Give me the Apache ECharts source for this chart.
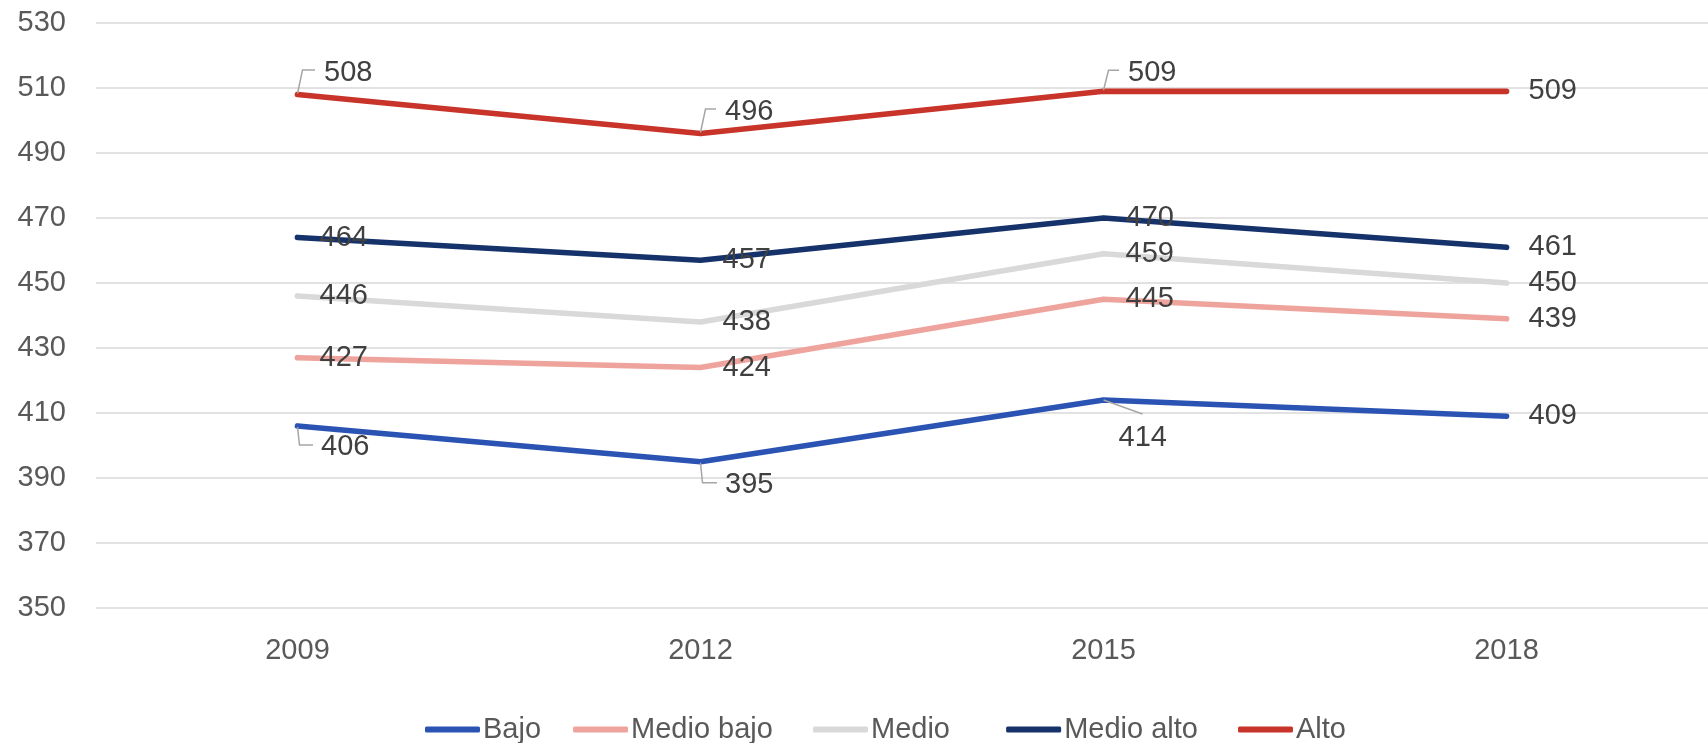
<!DOCTYPE html>
<html>
<head>
<meta charset="utf-8">
<script src="https://cdn.jsdelivr.net/npm/echarts@6/dist/echarts.min.js"></script>
<style>
  html, body { margin: 0; padding: 0; background: #fff; }
  #chart { width: 1708px; height: 743px; }
</style>
</head>
<body>
<div id="chart"></div>
<script>
// ---- data ----
const years = ['2009', '2012', '2015', '2018'];
const seriesNames = ['Bajo', 'Medio bajo', 'Medio', 'Medio alto', 'Alto'];
const bajo = [406, 395, 414, 409];
const medioBajo = [427, 424, 445, 439];
const medio = [446, 438, 459, 450];
const medioAlto = [464, 457, 470, 461];
const alto = [508, 496, 509, 509];
const yTicks = [350, 370, 390, 410, 430, 450, 470, 490, 510, 530];

// ---- styling ----
const colors = ['#2A53B3', '#EFA39D', '#D9D9D9', '#16326B', '#C8332A'];
const values = [bajo, medioBajo, medio, medioAlto, alto];
const FONT = 'Liberation Sans';
const LABEL_DIST = 21;
// label displacement (dx, dy) for labels drawn with a leader line
const labelShift = {
  'Alto': { 0: [4.5, -21.5], 1: [2.5, -21.5], 2: [2.5, -18] },
  'Bajo': { 0: [1.5, 21], 1: [2.5, 23], 2: [-7, 38] }
};
// trailing spaces after legend texts (to mimic the reference spacing)
const legendSpaces = { 'Bajo': 0, 'Medio bajo': 1, 'Medio': 3, 'Medio alto': 1, 'Alto': 0 };

const chart = echarts.init(document.getElementById('chart'), null, { renderer: 'canvas' });

const series = seriesNames.map((name, si) => {
  const shifts = labelShift[name] || {};
  return {
    name: name,
    type: 'line',
    data: values[si],
    symbol: 'circle',
    symbolSize: 2,
    showSymbol: true,
    itemStyle: { color: colors[si] },
    lineStyle: { color: colors[si], width: 5.75, cap: 'round', join: 'round' },
    z: 2 + si,
    label: {
      show: true,
      position: 'right',
      distance: LABEL_DIST,
      color: '#404040',
      fontFamily: FONT,
      fontSize: 29
    },
    labelLayout: function (params) {
      const s = shifts[params.dataIndex];
      if (!s) return {};
      return { dx: s[0], dy: s[1] };
    }
  };
});

// leader lines for the displaced labels, positioned through the axes
const leaderData = [];
seriesNames.forEach((name, si) => {
  const shifts = labelShift[name];
  if (!shifts) return;
  Object.keys(shifts).forEach(k => {
    const i = +k;
    leaderData.push({ value: [i, values[si][i]], name: name });
  });
});

series.push({
  type: 'custom',
  name: 'leaders',
  silent: true,
  z: 20,
  data: leaderData,
  renderItem: function (params, api) {
    const item = leaderData[params.dataIndex];
    const s = labelShift[item.name][item.value[0]];
    const p = api.coord([api.value(0), api.value(1)]);
    const cx = p[0], cy = p[1];
    const lx = cx + 1 + LABEL_DIST + s[0];
    const lcy = cy + s[1];
    let pts;
    if (item.name === 'Bajo' && item.value[0] === 2) {
      const ex = lx + 24, ey = lcy - 24;
      pts = [[cx, cy], [ex, ey]];
    } else if (s[1] < 0) {
      pts = [[cx, cy - 1], [cx + 5, lcy - 3], [lx - 9, lcy - 3]];
    } else {
      pts = [[cx, cy + 1], [cx + 2, lcy - 2], [lx - 8, lcy - 2]];
    }
    return {
      type: 'polyline',
      shape: { points: pts },
      style: { stroke: '#A6A6A6', lineWidth: 1.5, fill: null }
    };
  }
});

chart.setOption({
  animation: false,
  backgroundColor: '#ffffff',
  textStyle: { fontFamily: FONT },
  grid: { left: 96, top: 23, width: 1636, height: 585, containLabel: false },
  xAxis: {
    type: 'category',
    data: years,
    boundaryGap: true,
    axisLine: { show: false },
    axisTick: { show: false },
    axisLabel: { color: '#595959', fontFamily: FONT, fontSize: 29, margin: 28 },
    splitLine: { show: false }
  },
  yAxis: {
    type: 'value',
    min: yTicks[0],
    max: yTicks[yTicks.length - 1],
    interval: yTicks[1] - yTicks[0],
    axisLine: { show: false },
    axisTick: { show: false },
    axisLabel: { color: '#595959', fontFamily: FONT, fontSize: 29, margin: 30 },
    splitLine: { show: true, lineStyle: { color: '#D9D9D9', width: 1.5 } }
  },
  legend: {
    data: seriesNames,
    left: 425,
    top: 715,
    padding: 0,
    icon: 'roundRect',
    itemWidth: 55,
    itemHeight: 6,
    itemGap: 32,
    formatter: function (name) {
      return name + ' '.repeat(legendSpaces[name] || 0);
    },
    textStyle: {
      color: '#595959', fontFamily: FONT, fontSize: 29, padding: [0, 0, 0, -2]
    }
  },
  series: series
});
</script>
</body>
</html>
